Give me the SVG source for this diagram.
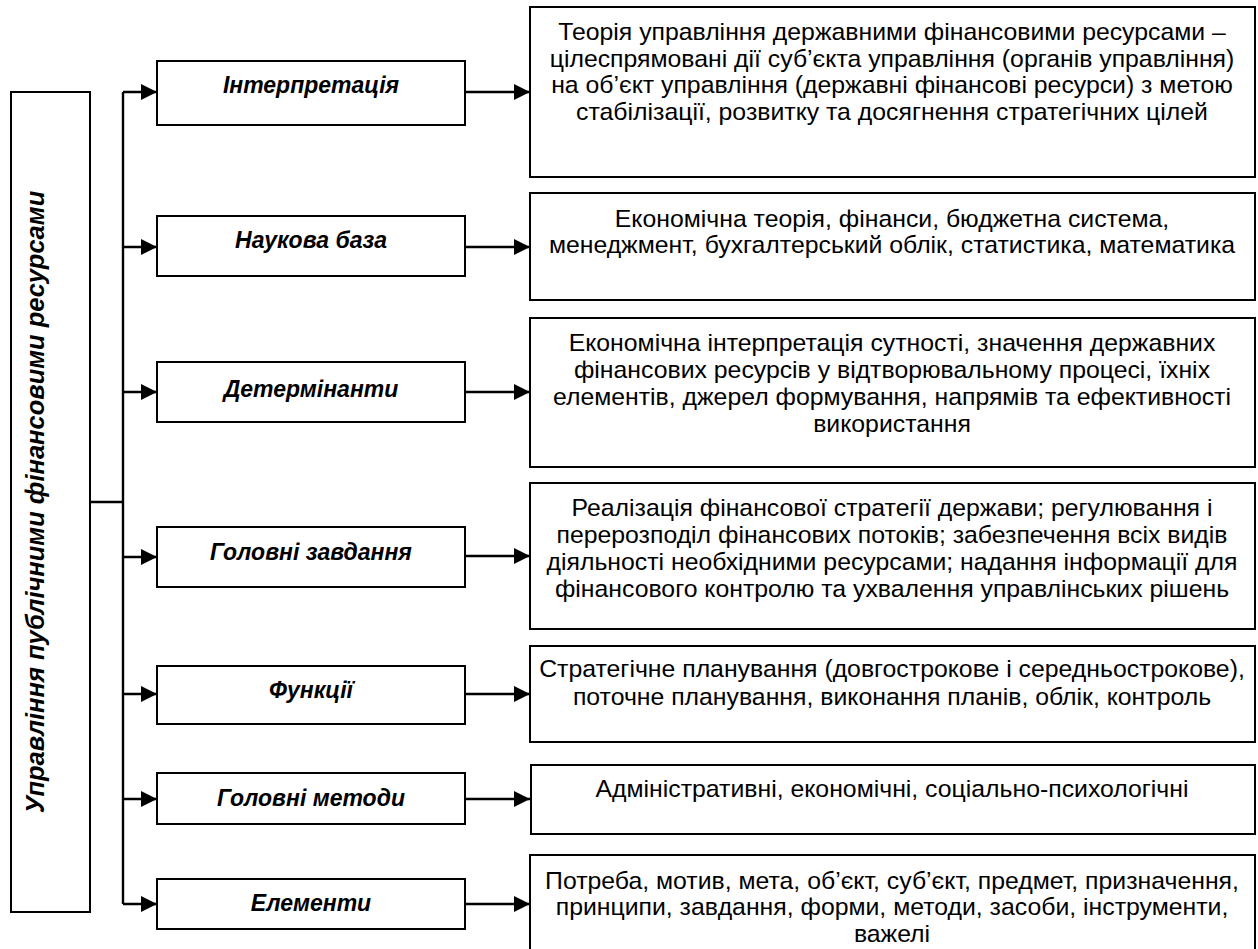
<svg xmlns="http://www.w3.org/2000/svg" width="1258" height="949" viewBox="0 0 1258 949">
<style>
.box{fill:#fff;stroke:#000;stroke-width:2}
.ln{fill:none;stroke:#000;stroke-width:2.4}
.lbl{font-family:"Liberation Sans",Arial,sans-serif;font-size:23px;font-weight:bold;font-style:italic;text-anchor:middle;fill:#000}
.vlbl{font-family:"Liberation Sans",Arial,sans-serif;font-size:25.5px;font-weight:bold;font-style:italic;text-anchor:middle;fill:#000}
.txt{font-family:"Liberation Sans",Arial,sans-serif;font-size:24.8px;text-anchor:middle;fill:#000}
</style>
<defs>
<marker id="ah" markerWidth="16" markerHeight="16" refX="16" refY="8" orient="auto" markerUnits="userSpaceOnUse">
<path d="M0,0 L16,8 L0,16 z" fill="#000"/>
</marker>
</defs>
<rect width="1258" height="949" fill="#fff"/>
<g id="connectors">
<path class="ln" d="M90,502 H123"/>
<path class="ln" d="M123,92 V904"/>
<path class="ln" d="M123,92 H157" marker-end="url(#ah)"/>
<path class="ln" d="M123,247 H157" marker-end="url(#ah)"/>
<path class="ln" d="M123,392 H157" marker-end="url(#ah)"/>
<path class="ln" d="M123,557 H157" marker-end="url(#ah)"/>
<path class="ln" d="M123,694 H157" marker-end="url(#ah)"/>
<path class="ln" d="M123,799 H157" marker-end="url(#ah)"/>
<path class="ln" d="M123,904 H157" marker-end="url(#ah)"/>
<path class="ln" d="M466,92 H530" marker-end="url(#ah)"/>
<path class="ln" d="M466,247 H530" marker-end="url(#ah)"/>
<path class="ln" d="M466,392 H530" marker-end="url(#ah)"/>
<path class="ln" d="M466,556 H530" marker-end="url(#ah)"/>
<path class="ln" d="M466,694 H530" marker-end="url(#ah)"/>
<path class="ln" d="M466,799 H530" marker-end="url(#ah)"/>
<path class="ln" d="M466,904 H530" marker-end="url(#ah)"/>
</g>
<g id="root">
<rect class="box" x="11" y="92" width="79" height="820"/>
<text class="vlbl" transform="translate(44,502) rotate(-90)">Управління публічними фінансовими ресурсами</text>
</g>
<g id="n-interp">
<rect class="box" x="157" y="61" width="308" height="64"/>
<text class="lbl" x="311" y="93">Інтерпретація</text>
</g>
<g id="n-nauk">
<rect class="box" x="157" y="216" width="308" height="60"/>
<text class="lbl" x="311" y="248">Наукова база</text>
</g>
<g id="n-determ">
<rect class="box" x="157" y="362" width="308" height="60"/>
<text class="lbl" x="311" y="397">Детермінанти</text>
</g>
<g id="n-zavd">
<rect class="box" x="157" y="527" width="308" height="60"/>
<text class="lbl" x="311" y="560">Головні завдання</text>
</g>
<g id="n-funk">
<rect class="box" x="157" y="666" width="308" height="58"/>
<text class="lbl" x="311" y="698">Функції</text>
</g>
<g id="n-metody">
<rect class="box" x="157" y="773" width="308" height="51"/>
<text class="lbl" x="311" y="806">Головні методи</text>
</g>
<g id="n-elem">
<rect class="box" x="157" y="879" width="308" height="50"/>
<text class="lbl" x="311" y="911">Елементи</text>
</g>
<g id="d-interp">
<rect class="box" x="530" y="7" width="725" height="170"/>
<text class="txt"><tspan x="892" y="40">Теорія управління державними фінансовими ресурсами –</tspan><tspan x="892" y="66.5">цілеспрямовані дії суб’єкта управління (органів управління)</tspan><tspan x="892" y="93">на об’єкт управління (державні фінансові ресурси) з метою</tspan><tspan x="892" y="119.5">стабілізації, розвитку та досягнення стратегічних цілей</tspan></text>
</g>
<g id="d-nauk">
<rect class="box" x="530" y="193" width="725" height="107"/>
<text class="txt"><tspan x="892" y="227">Економічна теорія, фінанси, бюджетна система,</tspan><tspan x="892" y="253">менеджмент, бухгалтерський облік, статистика, математика</tspan></text>
</g>
<g id="d-determ">
<rect class="box" x="530" y="318" width="725" height="149"/>
<text class="txt"><tspan x="892" y="351">Економічна інтерпретація сутності, значення державних</tspan><tspan x="892" y="378">фінансових ресурсів у відтворювальному процесі, їхніх</tspan><tspan x="892" y="405">елементів, джерел формування, напрямів та ефективності</tspan><tspan x="892" y="432">використання</tspan></text>
</g>
<g id="d-zavd">
<rect class="box" x="530" y="483" width="725" height="146"/>
<text class="txt"><tspan x="892" y="516">Реалізація фінансової стратегії держави; регулювання і</tspan><tspan x="892" y="543">перерозподіл фінансових потоків; забезпечення всіх видів</tspan><tspan x="892" y="570">діяльності необхідними ресурсами; надання інформації для</tspan><tspan x="892" y="597">фінансового контролю та ухвалення управлінських рішень</tspan></text>
</g>
<g id="d-funk">
<rect class="box" x="530" y="646" width="725" height="96"/>
<text class="txt"><tspan x="892" y="677">Стратегічне планування (довгострокове і середньострокове),</tspan><tspan x="892" y="705">поточне планування, виконання планів, облік, контроль</tspan></text>
</g>
<g id="d-metody">
<rect class="box" x="531" y="765" width="724" height="69"/>
<text class="txt" x="892" y="797">Адміністративні, економічні, соціально-психологічні</text>
</g>
<g id="d-elem">
<rect class="box" x="530" y="855" width="725" height="110"/>
<text class="txt"><tspan x="892" y="889">Потреба, мотив, мета, об’єкт, суб’єкт, предмет, призначення,</tspan><tspan x="892" y="915">принципи, завдання, форми, методи, засоби, інструменти,</tspan><tspan x="892" y="942">важелі</tspan></text>
</g>
</svg>
